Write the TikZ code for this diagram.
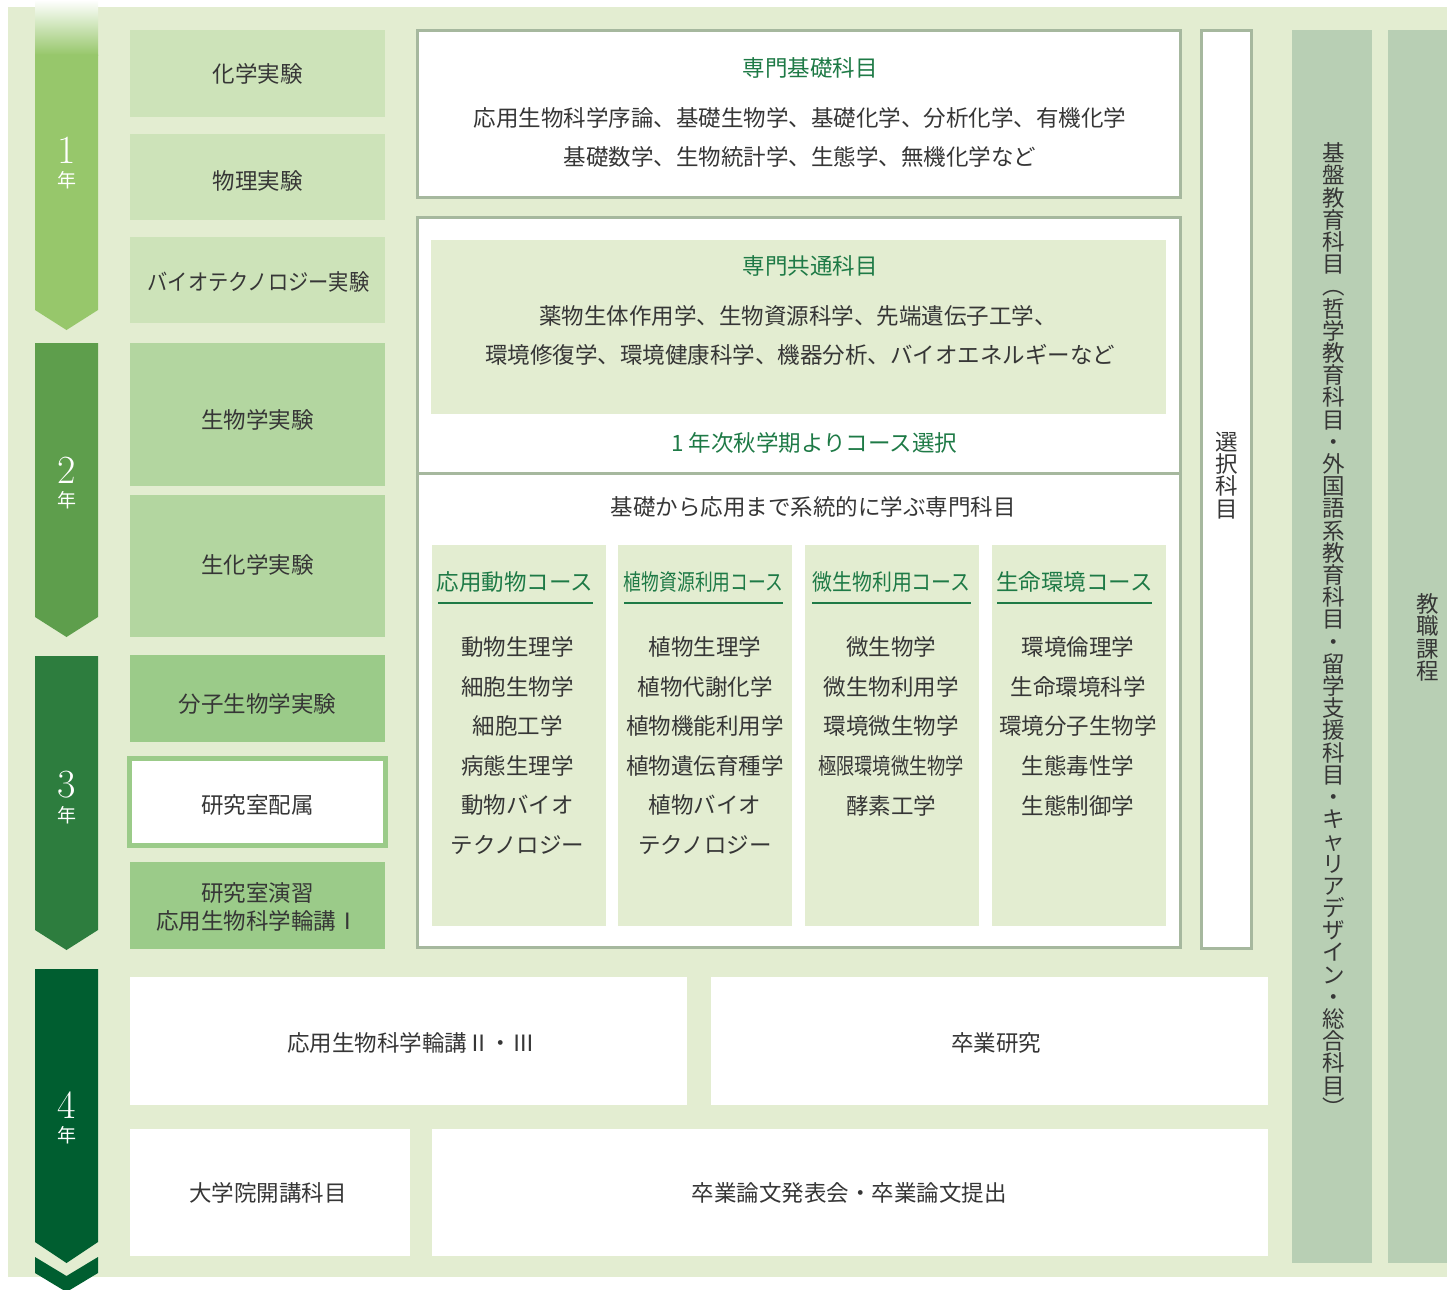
\documentclass[tikz,border=0pt]{standalone}
\usepackage{fontspec}
\newfontfamily\jp{Noto Sans CJK JP}
\newfontfamily\jpn[FakeStretch=0.79]{Noto Sans CJK JP}
\newfontfamily\jpm[FakeStretch=0.885]{Noto Sans CJK JP}
\newfontfamily\jpb[FakeStretch=0.9]{Noto Sans CJK JP}
\newfontfamily\jpk[FakeStretch=0.81]{Noto Sans CJK JP}
\definecolor{bgc}{HTML}{E3EDD1}
\definecolor{yrA}{HTML}{97C76B}
\definecolor{yrB}{HTML}{5E9E4C}
\definecolor{yrC}{HTML}{2D7D3E}
\definecolor{yrD}{HTML}{005E30}
\definecolor{lgA}{HTML}{CDE3B9}
\definecolor{lgB}{HTML}{B3D6A0}
\definecolor{lgC}{HTML}{9BCB89}
\definecolor{bdc}{HTML}{A6B89E}
\definecolor{kib}{HTML}{B8CFB4}
\definecolor{hgc}{HTML}{1E7A46}
\definecolor{txc}{HTML}{363636}
\begin{document}
\begin{tikzpicture}[x=0.5pt,y=-0.5pt,
  every node/.style={inner sep=0pt, outer sep=0pt},
  pbox/.style n args={4}{minimum width={(#3-#1)*0.5pt}, minimum height={(#4-#2)*0.5pt}, at={({(#1+#3)/2},{(#2+#4)/2})}},
  txtj/.style={font=\jp\fontsize{11.25}{14}\selectfont, text=txc},
  headj/.style={font=\jp\fontsize{11.25}{14}\selectfont, text=hgc},
  vtxt/.style={align=center, text=txc, font={\jp\fontsize{11.25}{11.1}\selectfont\lineskiplimit=-50pt}},
  wbox/.style={fill=white, draw=bdc, line width=1.5pt},
  yrnum/.style={font=\fontsize{20}{20}\selectfont, text=white},
  yrlbl/.style={font=\jp\fontsize{9.5}{10}\selectfont, text=white},
  uline/.style={draw=hgc, line width=0.9pt},
  itm/.style={txtj}
]
\useasboundingbox (0,0) rectangle (1447,1290);
% background
\fill[bgc] (8,7) rectangle (1447,1277);

% year arrows
\shade[top color=white, bottom color=yrA] (35,0) rectangle (98,55);
\fill[yrA] (35,54.5) -- (98,54.5) -- (98,310) -- (66.5,330) -- (35,310) -- cycle;
\fill[yrB] (35,343) -- (98,343) -- (98,617) -- (66.5,637) -- (35,617) -- cycle;
\fill[yrC] (35,656) -- (98,656) -- (98,930) -- (66.5,950) -- (35,930) -- cycle;
\fill[yrD] (35,969) -- (98,969) -- (98,1242) -- (66.5,1263) -- (35,1242) -- cycle;
\fill[yrD] (35,1257) -- (66.5,1276) -- (98,1257) -- (98,1273) -- (66.5,1292) -- (35,1273) -- cycle;

\node[yrnum] (y1n) at (66.5,150) {1};
\node[yrlbl] (y1l) at (66.5,180) {年};
\node[yrnum] (y2n) at (66.5,470) {2};
\node[yrlbl] (y2l) at (66.5,500) {年};
\node[yrnum] (y3n) at (66.5,785) {3};
\node[yrlbl] (y3l) at (66.5,815) {年};
\node[yrnum] (y4n) at (66.5,1105) {4};
\node[yrlbl] (y4l) at (66.5,1135) {年};

% left column
\node[fill=lgA, pbox={130}{30}{385}{117}] (kagaku) {};
\node[txtj] (kagakuT) at (257.5,74) {化学実験};
\node[fill=lgA, pbox={130}{134}{385}{220}] (butsuri) {};
\node[txtj] (butsuriT) at (257.5,181) {物理実験};
\node[fill=lgA, pbox={130}{237}{385}{323}] (bio) {};
\node[txtj, font=\jpb\fontsize{11.25}{14}\selectfont] (bioT) at (258.5,282) {バイオテクノロジー実験};
\node[fill=lgB, pbox={130}{343}{385}{486}] (seibutsu) {};
\node[txtj] (seibutsuT) at (257.5,420) {生物学実験};
\node[fill=lgB, pbox={130}{495}{385}{637}] (seika) {};
\node[txtj] (seikaT) at (257.5,565) {生化学実験};
\node[fill=lgC, pbox={130}{655}{385}{742}] (bunshi) {};
\node[txtj] (bunshiT) at (257.5,704) {分子生物学実験};
\node[fill=white, draw=lgC, line width=2.5pt, pbox={129.5}{758.5}{385.5}{845.5}] (haizoku) {};
\node[txtj] (haizokuT) at (257.5,805) {研究室配属};
\node[fill=lgC, pbox={130}{862}{385}{949}] (ensyu) {};
\node[txtj, align=center] (ensyuT) at (257.5,907) {研究室演習\\応用生物科学輪講Ⅰ};

% 専門基礎科目
\node[wbox, pbox={417}{30}{1180}{197}] (kiso) {};
\node[headj] (kisoT) at (810,68) {専門基礎科目};
\node[txtj] (kisoA) at (800,118) {応用生物科学序論、基礎生物学、基礎化学、分析化学、有機化学};
\node[txtj] (kisoB) at (800,157) {基礎数学、生物統計学、生態学、無機化学など};

% 専門科目 box
\node[wbox, pbox={417}{217}{1180}{947}] (senmon) {};
\node[fill=bgc, pbox={431}{240}{1166}{414}] (kyotsu) {};
\node[headj] (kyotsuT) at (810,266) {専門共通科目};
\node[txtj] (kyotsuA) at (798,316) {薬物生体作用学、生物資源科学、先端遺伝子工学、};
\node[txtj] (kyotsuB) at (800,355) {環境修復学、環境健康科学、機器分析、バイオエネルギーなど};
\node[headj] (select) at (814,443) {1 年次秋学期よりコース選択};
\draw[draw=bdc, line width=1.5pt] (senmon.west |- 0,473) -- (senmon.east |- 0,473);
\node[txtj] (keito) at (813,507) {基礎から応用まで系統的に学ぶ専門科目};

% course panels
\node[fill=bgc, pbox={432}{545}{606}{926}] (cA) {};
\node[fill=bgc, pbox={618}{545}{792}{926}] (cB) {};
\node[fill=bgc, pbox={805}{545}{979}{926}] (cC) {};
\node[fill=bgc, pbox={992}{545}{1166}{926}] (cD) {};

\node[headj] (cAh) at (515,582) {応用動物コース};
\node[headj, font=\jpn\fontsize{11.25}{14}\selectfont] (cBh) at (703.5,582) {植物資源利用コース};
\node[headj, font=\jpm\fontsize{11.25}{14}\selectfont] (cCh) at (891.5,582) {微生物利用コース};
\node[headj] (cDh) at (1074.5,582) {生命環境コース};
\draw[uline] (438,603) -- (593,603);
\draw[uline] (624,603) -- (783,603);
\draw[uline] (812,603) -- (971,603);
\draw[uline] (997,603) -- (1152,603);

\foreach \s [count=\i] in {動物生理学,細胞生物学,細胞工学,病態生理学,動物バイオ,テクノロジー}
  \node[itm] (cAi\i) at (517.5,{647+(\i-1)*39.6}) {\s};
\foreach \s [count=\i] in {植物生理学,植物代謝化学,植物機能利用学,植物遺伝育種学,植物バイオ,テクノロジー}
  \node[itm] (cBi\i) at (705,{647+(\i-1)*39.6}) {\s};
\node[itm] (cCi1) at (891,647) {微生物学};
\node[itm] (cCi2) at (891,686.6) {微生物利用学};
\node[itm] (cCi3) at (891,726.2) {環境微生物学};
\node[itm, font=\jpk\fontsize{11.25}{14}\selectfont] (cCi4) at (891,765.8) {極限環境微生物学};
\node[itm] (cCi5) at (891,805.4) {酵素工学};
\foreach \s [count=\i] in {環境倫理学,生命環境科学,環境分子生物学,生態毒性学,生態制御学}
  \node[itm] (cDi\i) at (1078,{647+(\i-1)*39.6}) {\s};

% 選択科目
\node[wbox, pbox={1201}{30}{1251}{948}] (sentaku) {};
\node[vtxt] (sentakuT) at (1227,475.5) {選\\択\\科\\目};

% 基盤教育科目
\node[fill=kib, pbox={1292}{30}{1372}{1263}] (kiban) {};
\node[vtxt] (kibanT) at (1334,629.5) {基\\盤\\教\\育\\科\\目\\︵\\哲\\学\\教\\育\\科\\目\\・\\外\\国\\語\\系\\教\\育\\科\\目\\・\\留\\学\\支\\援\\科\\目\\・\\キ\\ャ\\リ\\ア\\デ\\ザ\\イ\\ン\\・\\総\\合\\科\\目\\︶};

% 教職課程
\node[fill=kib, pbox={1388}{30}{1447}{1263}] (kyoshoku) {};
\node[vtxt] (kyoshokuT) at (1428,637.5) {教\\職\\課\\程};

% 4th year boxes
\node[fill=white, pbox={130}{977}{687}{1105}] (rinko) {};
\node[txtj] (rinkoT) at (411,1043) {応用生物科学輪講Ⅱ・Ⅲ};
\node[fill=white, pbox={711}{977}{1268}{1105}] (sotsuken) {};
\node[txtj] (sotsukenT) at (996,1043) {卒業研究};
\node[fill=white, pbox={130}{1129}{410}{1256}] (daigakuin) {};
\node[txtj] (daigakuinT) at (268,1193) {大学院開講科目};
\node[fill=white, pbox={432}{1129}{1268}{1256}] (ronbun) {};
\node[txtj] (ronbunT) at (849,1193) {卒業論文発表会・卒業論文提出};
\end{tikzpicture}
\end{document}
